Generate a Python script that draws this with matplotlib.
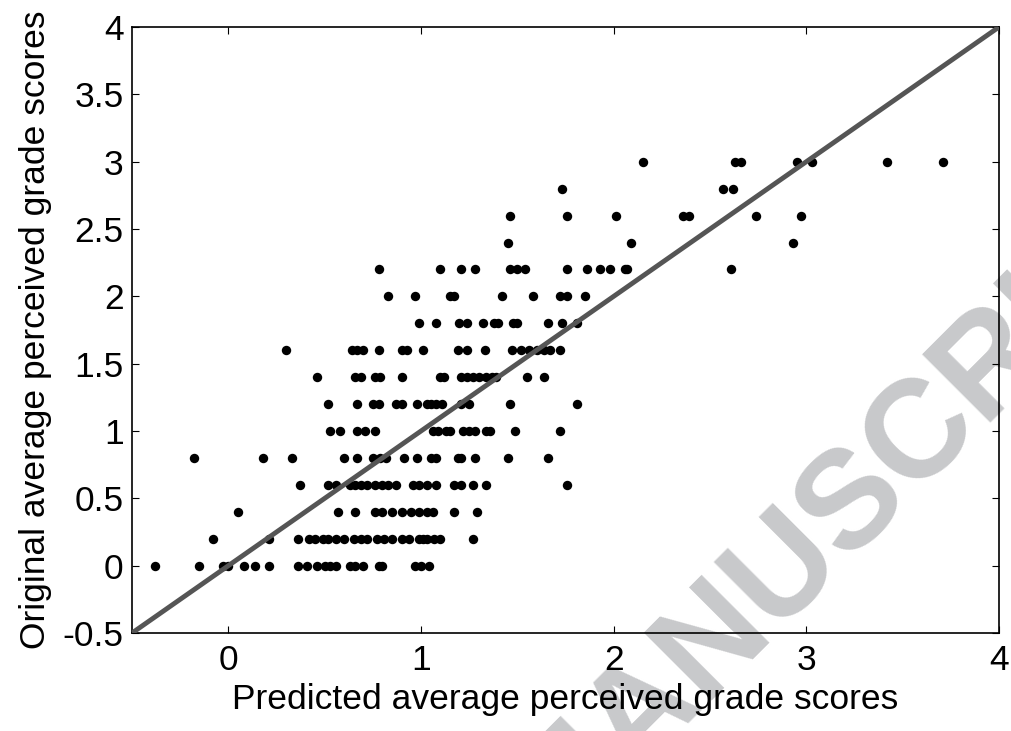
import numpy as np
import matplotlib.pyplot as plt

# original grade levels (y) and the predicted scores (x) found at each level
levels = [0.0, 0.2, 0.4, 0.6, 0.8, 1.0, 1.2, 1.4, 1.6, 1.8, 2.0, 2.2, 2.4, 2.6, 2.8, 3.0]
predicted = [
    [-0.38, -0.15, -0.03, 0.00, 0.08, 0.14, 0.21, 0.36, 0.41, 0.46, 0.50, 0.53, 0.56,
     0.63, 0.66, 0.70, 0.78, 0.80, 0.97, 1.00, 1.04],
    [-0.08, 0.21, 0.36, 0.42, 0.45, 0.49, 0.52, 0.56, 0.60, 0.65, 0.69, 0.72, 0.77,
     0.81, 0.85, 0.90, 0.94, 0.99, 1.01, 1.03, 1.07, 1.10, 1.27],
    [0.05, 0.57, 0.66, 0.76, 0.80, 0.85, 0.90, 0.95, 0.99, 1.03, 1.06, 1.17, 1.29],
    [0.37, 0.52, 0.56, 0.63, 0.66, 0.69, 0.72, 0.76, 0.80, 0.83, 0.87, 0.96, 0.99,
     1.03, 1.08, 1.17, 1.21, 1.27, 1.34, 1.76],
    [-0.18, 0.18, 0.33, 0.60, 0.67, 0.75, 0.79, 0.82, 0.91, 0.98, 1.05, 1.08, 1.19,
     1.21, 1.28, 1.45, 1.66],
    [0.53, 0.58, 0.67, 0.71, 0.76, 1.06, 1.09, 1.13, 1.15, 1.22, 1.25, 1.28, 1.34,
     1.36, 1.49, 1.72],
    [0.52, 0.67, 0.75, 0.78, 0.87, 0.90, 0.98, 1.03, 1.05, 1.08, 1.11, 1.21, 1.25,
     1.46, 1.81],
    [0.46, 0.66, 0.69, 0.76, 0.79, 0.90, 1.10, 1.12, 1.21, 1.24, 1.27, 1.30, 1.34,
     1.37, 1.39, 1.55, 1.64],
    [0.30, 0.64, 0.67, 0.70, 0.78, 0.90, 0.93, 1.01, 1.19, 1.24, 1.33, 1.47, 1.52,
     1.56, 1.60, 1.64, 1.67, 1.72],
    [0.99, 1.08, 1.20, 1.24, 1.32, 1.38, 1.40, 1.48, 1.50, 1.66, 1.73, 1.81],
    [0.83, 0.97, 1.15, 1.17, 1.42, 1.58, 1.72, 1.76, 1.85],
    [0.78, 1.10, 1.21, 1.28, 1.46, 1.50, 1.54, 1.76, 1.86, 1.93, 1.98, 2.06, 2.07, 2.61],
    [1.45, 2.09, 2.93],
    [1.46, 1.76, 2.01, 2.36, 2.39, 2.74, 2.97],
    [1.73, 2.57, 2.62],
    [2.15, 2.63, 2.66, 2.95, 3.03, 3.42, 3.71],
]
xticks = [0, 1, 2, 3, 4]
yticks = [-0.5, 0, 0.5, 1, 1.5, 2, 2.5, 3, 3.5, 4]
ref_line = [-0.5, 4]

x = np.concatenate([np.array(p) for p in predicted])
y = np.concatenate([np.full(len(p), lv) for p, lv in zip(predicted, levels)])

plt.rcParams['font.family'] = ['Liberation Sans', 'DejaVu Sans']

fig = plt.figure(figsize=(10.12, 7.31), dpi=100)
ax = fig.add_axes([0.1304, 0.134, 0.8567, 0.829])

# watermark behind the axes
fig.text(0.843, 0.316, 'MANUSCRIPT', fontsize=100, fontweight='bold',
         color='#c8c9cb', rotation=45, rotation_mode='anchor',
         ha='center', va='center', zorder=0)
ax.set_zorder(1)
ax.patch.set_alpha(0)

ax.scatter(x, y, s=46, color='black', linewidths=0, zorder=2)
ax.plot(ref_line, ref_line, color='#555555', lw=3.5, zorder=3, solid_capstyle='butt')

ax.set_xlim(-0.5, 4)
ax.set_ylim(-0.5, 4)
ax.set_xticks(xticks)
ax.set_yticks(yticks)
ax.set_xticklabels([str(t) for t in xticks])
ax.set_yticklabels(['-0.5', '0', '0.5', '1', '1.5', '2', '2.5', '3', '3.5', '4'])
ax.tick_params(direction='in', length=5, width=0.8, top=True, right=True,
               labelsize=25.5, colors='black')
ax.tick_params(axis='x', pad=8)
ax.tick_params(axis='y', pad=6)
for s in ax.spines.values():
    s.set_linewidth(1.2)

ax.set_xlabel('Predicted average perceived grade scores', fontsize=25.5, labelpad=4)
ax.set_ylabel('Original average perceived grade scores', fontsize=25.5, labelpad=8)

fig.savefig('out.png', dpi=100)
